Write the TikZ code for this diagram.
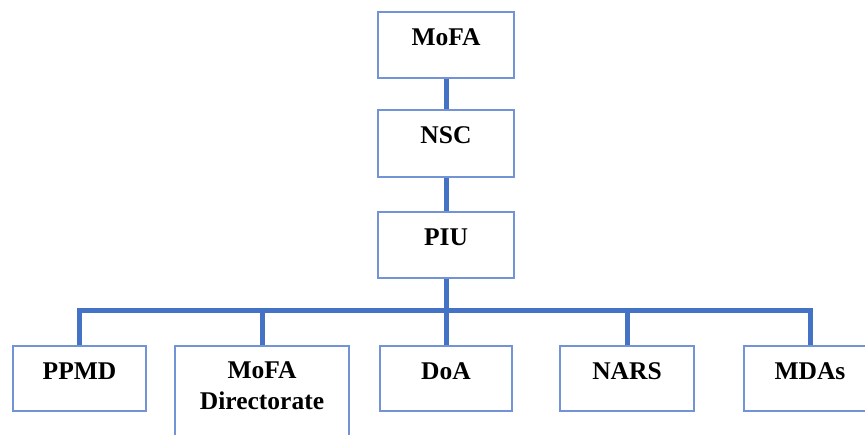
\documentclass[tikz,border=0pt]{standalone}
\usepackage{fontspec}
\setmainfont{Liberation Serif}
\usetikzlibrary{calc}
\definecolor{boxline}{HTML}{7294D6}
\definecolor{connline}{HTML}{4472C4}
\begin{document}
\begin{tikzpicture}[x=1pt,y=-1pt,
  box/.style={draw=boxline,line width=1.5pt,fill=white,minimum width=134pt,minimum height=66pt,inner sep=0pt},
  lbl/.style={font=\fontsize{25.5}{31}\selectfont\bfseries,inner sep=0pt,anchor=base,align=center},
  conn/.style={draw=connline,line width=5pt,line join=miter}]
\useasboundingbox (0,0) rectangle (865,435);
\clip (0,0) rectangle (865,435);
\fill[white] (0,0) rectangle (865,435);
\coordinate (bus) at (446,311);
% boxes
\node[box,minimum width=136pt] (mofa) at (446,45) {};
\node[box,minimum width=136pt,minimum height=67pt] (nsc) at (446,143.5) {};
\node[box,minimum width=136pt] (piu) at (446,245) {};
\node[box,minimum width=133pt,minimum height=65pt] (ppmd) at (79.5,378.5) {};
\node[box,minimum width=174pt,minimum height=110pt] (dir) at (262,401) {};
\node[box,minimum width=132pt,minimum height=65pt] (doa) at (446,378.5) {};
\node[box,minimum width=134pt,minimum height=65pt] (nars) at (627,378.5) {};
\node[box,minimum width=132pt,minimum height=65pt] (mdas) at (810,378.5) {};
% connectors
\draw[conn] (mofa.south) -- (nsc.north);
\draw[conn] (nsc.south) -- (piu.north);
\draw[conn] (piu.south) -- (doa.north);
\draw[conn] (ppmd.north) -- (ppmd.north |- bus) -- (mdas.north |- bus) -- (mdas.north);
\draw[conn] (dir.north) -- (dir.north |- bus);
\draw[conn] (nars.north) -- (nars.north |- bus);
% labels
\node[lbl] (tmofa) at ($(mofa.north)+(0,34)$) {MoFA};
\node[lbl] (tnsc) at ($(nsc.north)+(0,34)$) {NSC};
\node[lbl] (tpiu) at ($(piu.north)+(0,34)$) {PIU};
\node[lbl] (tppmd) at ($(ppmd.north)+(0,34)$) {PPMD};
\node[lbl] (tdir) at ($(dir.north)+(0,64)$) {MoFA\\Directorate};
\node[lbl] (tdoa) at ($(doa.north)+(0,34)$) {DoA};
\node[lbl] (tnars) at ($(nars.north)+(0,34)$) {NARS};
\node[lbl] (tmdas) at ($(mdas.north)+(0,34)$) {MDAs};
\end{tikzpicture}
\end{document}
